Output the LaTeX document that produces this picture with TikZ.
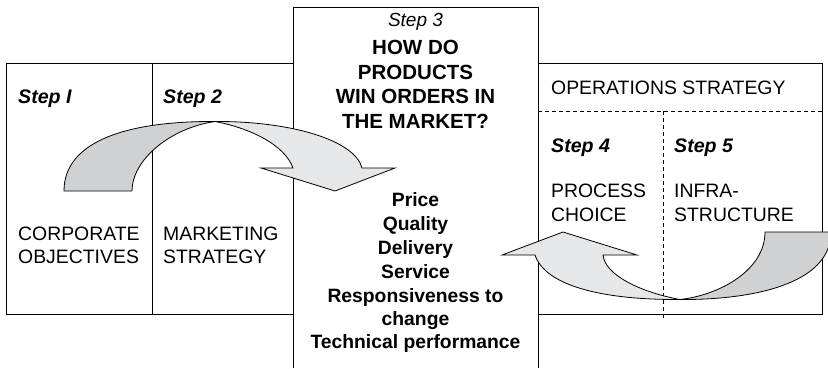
\documentclass[tikz,border=0pt]{standalone}
\usepackage{fontspec}
\setmainfont{Liberation Sans}
\definecolor{arrdark}{RGB}{208,209,211}
\definecolor{arrlight}{RGB}{230,231,233}
\begin{document}
\begin{tikzpicture}[x=1pt,y=-1pt,
  frame/.style={line width=0.9pt, draw=black},
  dashln/.style={line width=0.9pt, draw=black, dash pattern=on 4pt off 3pt},
  reg/.style={inner sep=0pt, anchor=base west, font=\fontsize{19.4}{23}\selectfont},
  stp/.style={inner sep=0pt, anchor=base west, font=\fontsize{19.6}{22}\selectfont\bfseries\itshape},
  bld/.style={inner sep=0pt, anchor=base, font=\fontsize{19.3}{22}\selectfont\bfseries},
  hdr/.style={inner sep=0pt, anchor=base, font=\fontsize{20.5}{22}\selectfont\bfseries},
  darkpart/.style={fill=arrdark, draw=black, line width=0.8pt, line join=round},
  lightpart/.style={fill=arrlight, draw=black, line width=0.8pt, line join=miter}]
\useasboundingbox (0,0) rectangle (828,368);
% boxes
\draw[frame] (6,63) rectangle (293,314);
\draw[frame] (152,63) -- (152,314);
\draw[frame] (293,368) -- (293,7) -- (538,7) -- (538,368);
\draw[frame] (538,63) rectangle (822,314);
\draw[dashln] (538,111) -- (822,111);
\draw[dashln] (663,111) -- (663,318);
% texts left
\node[stp] (s1) at (18,103) {Step I};
\node[stp] (s2) at (163,103) {Step 2};
\node[reg] (c1) at (18,240) {CORPORATE};
\node[reg] (c2) at (18,263) {OBJECTIVES};
\node[reg] (m1) at (163,240) {MARKETING};
\node[reg] (m2) at (163,263) {STRATEGY};
% central texts
\node[inner sep=0pt, anchor=base, font=\fontsize{19}{22}\selectfont\itshape] (s3) at (415.5,26) {Step 3};
\node[hdr] (q1) at (415.5,54) {HOW DO};
\node[hdr] (q2) at (415.5,79) {PRODUCTS};
\node[hdr] (q3) at (415.5,103) {WIN ORDERS IN};
\node[hdr] (q4) at (415.5,128) {THE MARKET?};
\node[bld] (w1) at (415.5,206) {Price};
\node[bld] (w2) at (415.5,230) {Quality};
\node[bld] (w3) at (415.5,254) {Delivery};
\node[bld] (w4) at (415.5,278) {Service};
\node[bld] (w5) at (415.5,302) {Responsiveness to};
\node[bld] (w6) at (415.5,325) {change};
\node[bld] (w7) at (415.5,348) {Technical performance};
% right texts
\node[reg] (os) at (551,94) {OPERATIONS STRATEGY};
\node[stp] (s4) at (551,152) {Step 4};
\node[stp] (s5) at (674,152) {Step 5};
\node[reg] (p1) at (551,197) {PROCESS};
\node[reg] (p2) at (551,221) {CHOICE};
\node[reg] (i1) at (674,197) {INFRA-};
\node[reg] (i2) at (674,221) {STRUCTURE};
% upper arrow
\draw[darkpart] (64,191) .. controls (64,140) and (130,121) .. (215,121.5)
  .. controls (170,128) and (132,160) .. (132,191) -- cycle;
\draw[lightpart] (215,121.5) .. controls (290,121) and (355,140) .. (362,168)
  -- (395,168) -- (335,191) -- (261,168) -- (293,168)
  .. controls (285,145) and (250,128) .. (215,121.5) -- cycle;
% lower arrow
\draw[darkpart] (765,232) -- (831,232) .. controls (831,285) and (750,300) .. (680,299.5)
  .. controls (720,295) and (765,270) .. (765,232) -- cycle;
\draw[lightpart] (680,299.5) .. controls (600,300) and (545,285) .. (535,255)
  -- (502,255) -- (563,232) -- (637,255) -- (603,255)
  .. controls (605,275) and (640,292) .. (680,299.5) -- cycle;
\end{tikzpicture}
\end{document}
